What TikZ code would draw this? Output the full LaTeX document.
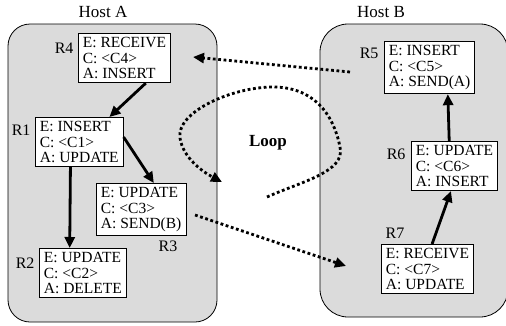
\documentclass[tikz,border=0pt]{standalone}
\usepackage{fontspec}
\setmainfont{Liberation Serif}
\usetikzlibrary{arrows.meta,positioning,calc}
\tikzset{
  host/.style={draw, fill=black!14, line width=0.8pt},
  rule/.style={draw, fill=white, line width=0.8pt, anchor=north west, align=left,
    inner xsep=4.5pt, inner ysep=4.2pt, font=\fontsize{15.5}{15.2}\selectfont},
  tag/.style={font=\fontsize{16}{18}\selectfont},
  flow/.style={line width=2.8pt, -{Triangle[length=11pt,width=10pt]}},
  msg/.style={line width=2.8pt, dash pattern=on 2.8pt off 2.6pt, -{Triangle[length=11pt,width=10pt]}}
}
\begin{document}
\begin{tikzpicture}[x=1pt,y=-1pt]
\useasboundingbox (0,0) rectangle (506,325);
% hosts
\draw[host, rounded corners=22pt] (8,24) rectangle (217,322);
\draw[host, rounded corners=28pt] (320,24) rectangle (508,317);
\node[font=\fontsize{17}{19}\selectfont] (hostA) at (103,12) {Host A};
\node[font=\fontsize{17}{19}\selectfont] (hostB) at (381,12) {Host B};

% rules on host A
\node[rule] (r4) at (78,33) {E: RECEIVE\\C: <C4>\\A: INSERT};
\node[rule] (r1) at (35,117) {E: INSERT\\C: <C1>\\A: UPDATE};
\node[rule] (r3) at (96,183) {E: UPDATE\\C: <C3>\\A: SEND(B)};
\node[rule] (r2) at (39,248) {E: UPDATE\\C: <C2>\\A: DELETE};
\node[tag, anchor=east] (l4) at (77,48) {R4};
\node[tag, anchor=east] (l1) at (34,130) {R1};
\node[tag, anchor=east] (l2) at (38,263) {R2};
\node[tag] (l3) at (168,246) {R3};

% rules on host B
\node[rule] (r5) at (384,41) {E: INSERT\\C: <C5>\\A: SEND(A)};
\node[rule] (r6) at (411,141) {E: UPDATE\\C: <C6>\\A: INSERT};
\node[rule] (r7) at (381,244) {E: RECEIVE\\C: <C7>\\A: UPDATE};
\node[tag, anchor=east] (l5) at (382,53) {R5};
\node[tag, anchor=east] (l6) at (409,154) {R6};
\node[tag] (l7) at (395,233) {R7};

% triggering
\draw[flow] ($(r4.south west)!0.73!(r4.south east)$) -- ($(r1.north west)!0.84!(r1.north east)$);
\draw[flow] ($(r1.north east)!0.4!(r1.south east)$) -- ($(r3.north west)!0.64!(r3.north east)$);
\draw[flow] ($(r1.south west)!0.4!(r1.south east)$) -- ($(r2.north west)!0.35!(r2.north east)$);
\draw[flow] ($(r7.north west)!0.55!(r7.north east)$) -- ($(r6.south west)!0.46!(r6.south east)$);
\draw[flow] ($(r6.north west)!0.44!(r6.north east)$) -- ($(r5.south west)!0.7!(r5.south east)$);

% messages between hosts
\coordinate (fromB) at (350,72);
\coordinate (toA) at (193,57);
\coordinate (fromA) at (195,215);
\coordinate (toB) at (346,266);
\draw[msg] (fromB) -- (toA);
\draw[msg] (fromA) -- (toB);

% loop
\draw[msg] (267,197) .. controls (300,182) and (346,172) .. (340,147)
  .. controls (333,112) and (312,87) .. (273,87)
  .. controls (232,87) and (176,112) .. (180,138)
  .. controls (183,158) and (203,172) .. (222,182);
\node[font=\fontsize{17}{19}\selectfont\bfseries] (loop) at (268,143) {Loop};
\end{tikzpicture}
\end{document}
